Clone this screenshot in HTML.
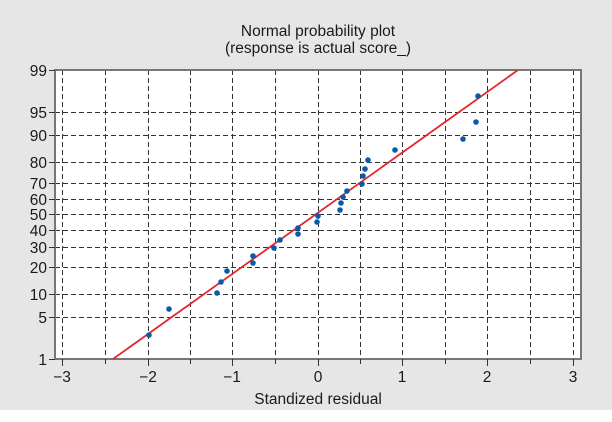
<!DOCTYPE html><html><head><style>body{margin:0;background:#fff}svg{display:block}text{font-family:"Liberation Sans",sans-serif;fill:#1a1a1a}</style></head><body>
<svg width="612" height="422" viewBox="0 0 612 422">
<rect x="0" y="0" width="612" height="410" fill="#e6e6e6"/>
<rect x="55" y="70" width="526" height="289" fill="#fff"/>
<text x="318" y="36" font-size="15.5" text-anchor="middle">Normal probability plot</text>
<text x="318" y="53" font-size="15.5" text-anchor="middle">(response is actual score_)</text>
<g stroke="#333" stroke-width="1" stroke-dasharray="5,3" fill="none">
<path d="M62.5 70V359M105.5 70V359M148.5 70V359M190.5 70V359M232.5 70V359M275.5 70V359M318.5 70V359M360.5 70V359M402.5 70V359M445.5 70V359M487.5 70V359M530.5 70V359M573.5 70V359"/>
<path d="M55 112.5H581M55 135.5H581M55 162.5H581M55 183.5H581M55 199.5H581M55 214.5H581M55 230.5H581M55 247.5H581M55 267.5H581M55 294.5H581M55 317.5H581"/>
</g>
<rect x="55" y="70" width="526" height="289" fill="none" stroke="#777" stroke-width="2"/>
<g stroke="#333" stroke-width="1">
<path d="M49 70.5H55M49 112.5H55M49 135.5H55M49 162.5H55M49 183.5H55M49 199.5H55M49 214.5H55M49 230.5H55M49 247.5H55M49 267.5H55M49 294.5H55M49 317.5H55M49 359.5H55"/>
<path d="M62.5 359V366M148.5 359V366M232.5 359V366M318.5 359V366M402.5 359V366M487.5 359V366M573.5 359V366M105.5 359V364M190.5 359V364M275.5 359V364M360.5 359V364M445.5 359V364M530.5 359V364"/>
</g>
<g font-size="15.5" text-anchor="end">
<text x="47" y="76">99</text><text x="47" y="118">95</text><text x="47" y="141">90</text><text x="47" y="168">80</text><text x="47" y="189">70</text><text x="47" y="205">60</text><text x="47" y="220">50</text><text x="47" y="236">40</text><text x="47" y="253">30</text><text x="47" y="273">20</text><text x="47" y="300">10</text><text x="47" y="323">5</text><text x="47" y="365">1</text>
</g>
<g font-size="15.5" text-anchor="middle">
<text x="62" y="382">−3</text><text x="148" y="382">−2</text><text x="232" y="382">−1</text><text x="318" y="382">0</text><text x="402" y="382">1</text><text x="487" y="382">2</text><text x="573" y="382">3</text>
<text x="318" y="404">Standized residual</text>
</g>
<line x1="113" y1="359" x2="518" y2="70" stroke="#e8232a" stroke-width="1.8"/>
<g fill="#0a5aaa">
<circle cx="149" cy="335" r="2.8"/><circle cx="169" cy="309" r="2.8"/><circle cx="217" cy="293" r="2.8"/><circle cx="221" cy="282" r="2.8"/><circle cx="227" cy="271" r="2.8"/><circle cx="253" cy="263" r="2.8"/><circle cx="253" cy="256" r="2.8"/><circle cx="274" cy="248" r="2.8"/><circle cx="280" cy="240" r="2.8"/><circle cx="298" cy="234" r="2.8"/><circle cx="298" cy="228" r="2.8"/><circle cx="317" cy="222" r="2.8"/><circle cx="318" cy="216" r="2.8"/><circle cx="340" cy="210" r="2.8"/><circle cx="341" cy="203" r="2.8"/><circle cx="343" cy="197" r="2.8"/><circle cx="347" cy="191" r="2.8"/><circle cx="362" cy="184" r="2.8"/><circle cx="363" cy="176" r="2.8"/><circle cx="365" cy="169" r="2.8"/><circle cx="368" cy="160" r="2.8"/><circle cx="395" cy="150" r="2.8"/><circle cx="463" cy="139" r="2.8"/><circle cx="476" cy="122" r="2.8"/><circle cx="478" cy="96" r="2.8"/>
</g>
</svg></body></html>
